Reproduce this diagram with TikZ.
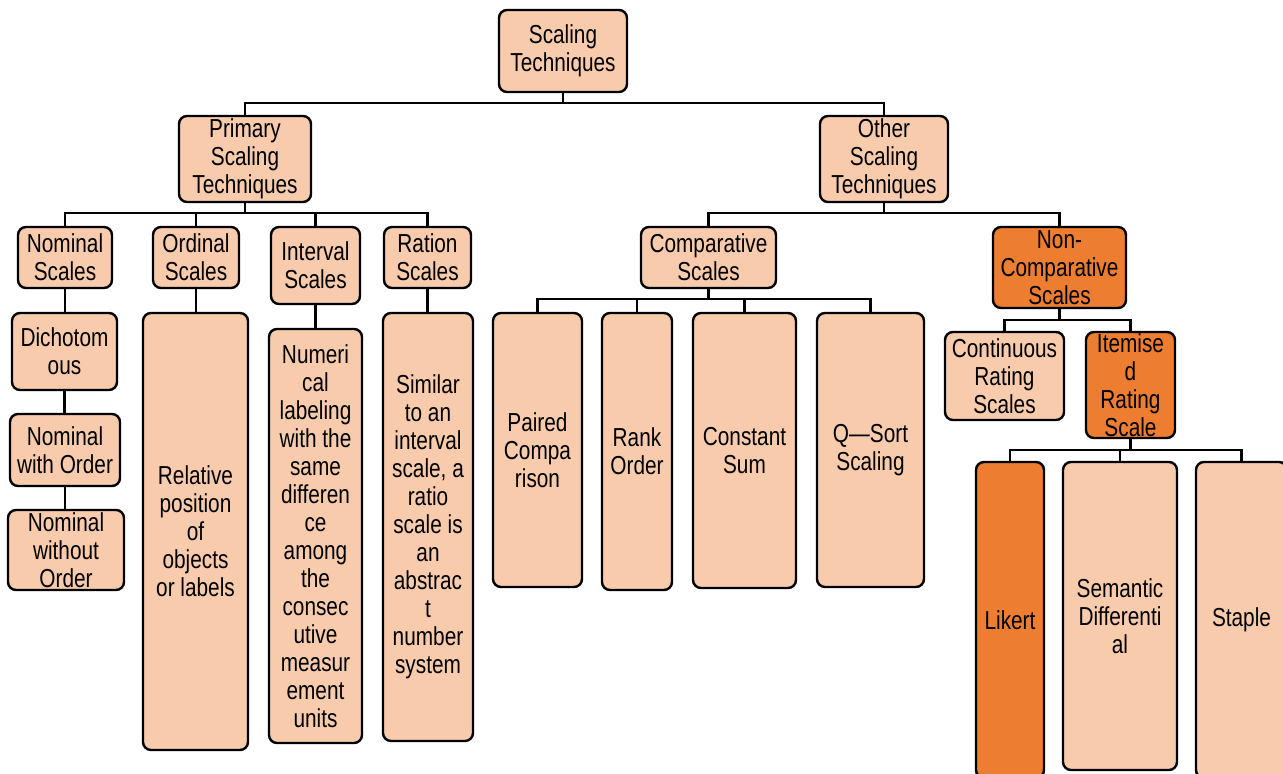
\documentclass[tikz,border=0pt]{standalone}
\usepackage{fontspec}
\setmainfont[FakeStretch=0.80]{Liberation Sans}
\definecolor{peach}{HTML}{F8CBAD}
\definecolor{orng}{HTML}{ED7D31}
\tikzset{
  box/.style={draw=black, line width=1.8pt, rounded corners=6pt, fill=peach, inner sep=0pt, align=center, font=\fontsize{19.5}{21}\selectfont},
  dark/.style={fill=orng},
  conn/.style={line width=1.7pt}
}
\newcommand\mkbox[7][]{\node[box,#1,minimum width={(#5-#3)*0.75pt},minimum height={(#6-#4)*0.75pt}] (#2) at ({(#3+#5)/2},{(#4+#6)/2}) {#7};}
\newcommand\tconn[3]{\draw[conn] (#1.south) |- (#2.north |- 0,#3) -- (#2.north);}
\newcommand\vconn[2]{\draw[conn] (#1.south) -- (#1.south |- #2.north);}
\begin{document}
\begin{tikzpicture}[x=0.75pt,y=-0.75pt]
\fill[white] (0,0) rectangle (1283,774);
\useasboundingbox (0,0) rectangle (1283,774);
\clip (0,0) rectangle (1283,774);
% level 0-1
\mkbox{st}{499}{10}{627}{92}{Scaling\\Techniques}
\mkbox{pst}{179}{116}{311}{202}{Primary\\Scaling\\Techniques}
\mkbox{ost}{820}{116}{948}{202}{Other\\Scaling\\Techniques}
% level 2 left
\mkbox{nom}{18}{227}{112}{288}{Nominal\\Scales}
\mkbox{ord}{153}{227}{239}{288}{Ordinal\\Scales}
\mkbox{intv}{271}{227}{360}{304}{Interval\\Scales}
\mkbox{rat}{384}{227}{471}{288}{Ration\\Scales}
\mkbox{dich}{12}{313}{117}{390}{Dichotom\\ous}
\mkbox{nwo}{10}{414}{120}{486}{Nominal\\with Order}
\mkbox{nwoo}{8}{510}{124}{590}{Nominal\\without\\Order}
\mkbox{rel}{143}{313}{248}{750}{Relative\\position\\of\\objects\\or labels}
\mkbox{num}{269}{329}{362}{743}{Numeri\\cal\\labeling\\with the\\same\\differen\\ce\\among\\the\\consec\\utive\\measur\\ement\\units}
\mkbox{sim}{383}{313}{473}{741}{Similar\\to an\\interval\\scale, a\\ratio\\scale is\\an\\abstrac\\t\\number\\system}
% level 2 right
\mkbox{comp}{641}{227}{776}{288}{Comparative\\Scales}
\mkbox[dark]{ncomp}{993}{227}{1126}{308}{Non-\\Comparative\\Scales}
\mkbox{pair}{493}{313}{582}{587}{Paired\\Compa\\rison}
\mkbox{rank}{602}{313}{672}{590}{Rank\\Order}
\mkbox{cons}{693}{313}{796}{588}{Constant\\Sum}
\mkbox{qsort}{817}{313}{924}{587}{Q—Sort\\Scaling}
\mkbox{cont}{945}{332}{1064}{420}{Continuous\\Rating\\Scales}
\mkbox[dark]{item}{1086}{332}{1175}{438}{Itemise\\d\\Rating\\Scale}
\mkbox[dark]{lik}{976}{462}{1044}{778}{Likert}
\mkbox{sem}{1063}{462}{1177}{770}{Semantic\\Differenti\\al}
\mkbox{stap}{1196}{462}{1287}{778}{Staple}
% connectors
\tconn{st}{pst}{103}
\tconn{st}{ost}{103}
\tconn{pst}{nom}{213}
\tconn{pst}{ord}{213}
\tconn{pst}{intv}{213}
\tconn{pst}{rat}{213}
\tconn{ost}{comp}{213}
\tconn{ost}{ncomp}{213}
\vconn{nom}{dich}
\vconn{dich}{nwo}
\vconn{nwo}{nwoo}
\vconn{ord}{rel}
\vconn{intv}{num}
\vconn{rat}{sim}
\tconn{comp}{pair}{299}
\tconn{comp}{rank}{299}
\tconn{comp}{cons}{299}
\tconn{comp}{qsort}{299}
\tconn{ncomp}{cont}{320}
\tconn{ncomp}{item}{320}
\tconn{item}{lik}{450}
\tconn{item}{sem}{450}
\tconn{item}{stap}{450}
\end{tikzpicture}
\end{document}
